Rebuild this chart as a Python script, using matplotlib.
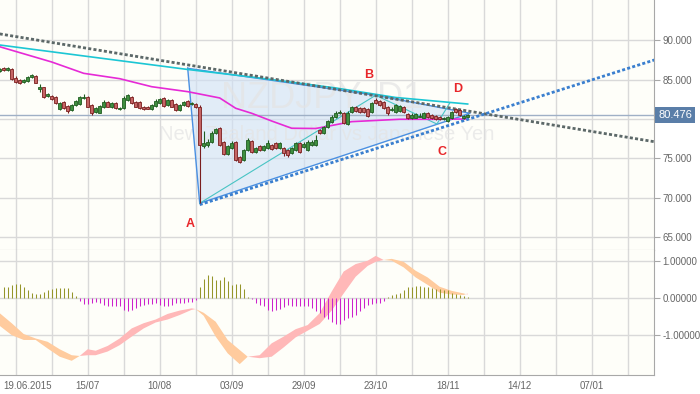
import matplotlib
matplotlib.use("Agg")
from matplotlib import pyplot as plt
from matplotlib.patches import Rectangle, Polygon
import matplotlib.transforms as mtransforms
import numpy as np

plt.rcParams['font.family'] = ['Liberation Sans', 'DejaVu Sans']

# daily bars, index 0 = 19.06.2015
bar_index = list(range(-4, 114))
opens = [86.09, 86.43, 86.21, 86.30, 85.24, 84.94, 84.65, 84.86, 85.29, 85.45,
         83.85, 84.01, 82.91, 82.95, 82.82, 81.22, 82.19, 81.64, 81.13, 81.77,
         81.89, 82.62, 82.82, 81.77, 80.92, 80.79, 81.47, 82.19, 81.47, 82.06,
         81.22, 81.35, 82.40, 82.74, 82.19, 82.19, 81.55, 81.55, 81.22, 81.64,
         82.06, 82.62, 81.77, 82.40, 81.89, 81.13, 81.77, 82.28, 81.89, 81.89,
         81.55, 76.55, 76.68, 77.10, 78.25, 78.81, 77.10, 75.54, 76.27, 77.10,
         75.12, 74.78, 76.05, 77.23, 75.83, 76.56, 76.05, 76.27, 76.68, 76.98,
         76.27, 76.27, 76.05, 75.63, 76.05, 76.90, 76.47, 76.05, 76.68, 76.68,
         78.59, 78.17, 78.93, 79.64, 80.28, 80.71, 80.71, 79.35, 80.92, 81.55,
         81.42, 81.35, 81.26, 80.92, 82.40, 82.31, 82.11, 81.55, 81.09, 80.92,
         81.01, 81.55, 80.59, 80.08, 80.15, 80.30, 80.15, 80.71, 80.50, 80.41,
         80.28, 79.99, 79.73, 80.08, 81.26, 81.13, 80.08, 80.28]
highs = [86.50, 86.60, 86.65, 86.45, 85.40, 85.05, 85.05, 85.50, 85.75, 85.55,
         84.45, 84.10, 83.25, 83.05, 82.90, 82.20, 82.30, 81.75, 81.90, 82.45,
         82.95, 83.10, 82.95, 81.85, 81.55, 81.80, 82.35, 82.30, 82.20, 82.15,
         81.45, 82.95, 83.15, 82.85, 82.30, 82.30, 81.65, 81.60, 81.85, 82.50,
         82.65, 82.75, 82.50, 82.55, 82.00, 81.85, 82.30, 82.45, 82.15, 82.00,
         81.77, 78.40, 77.50, 78.40, 78.85, 78.95, 77.20, 76.70, 77.15, 77.20,
         75.30, 76.20, 77.60, 77.35, 76.40, 76.70, 76.70, 77.30, 76.80, 77.10,
         77.00, 76.40, 76.15, 76.40, 77.05, 77.00, 77.00, 77.30, 77.30, 77.90,
         78.70, 79.10, 79.90, 80.45, 80.95, 81.10, 80.85, 80.95, 81.70, 81.65,
         81.55, 81.50, 81.40, 82.10, 82.60, 82.45, 82.25, 81.65, 81.50, 81.90,
         81.80, 81.70, 80.70, 80.70, 80.75, 80.70, 80.85, 80.85, 80.60, 80.50,
         80.40, 80.30, 80.35, 81.05, 81.40, 81.25, 80.55, 80.60]
lows = [85.95, 86.10, 86.10, 84.90, 84.55, 84.45, 84.55, 84.75, 85.20, 84.50,
        83.40, 82.70, 82.80, 82.40, 81.85, 81.10, 81.30, 80.80, 80.95, 81.65,
        81.80, 82.50, 81.45, 80.45, 80.80, 80.70, 81.40, 81.45, 81.35, 81.20,
        81.15, 81.25, 82.30, 81.90, 81.45, 81.25, 81.15, 81.20, 81.15, 81.55,
        81.95, 81.50, 81.65, 81.45, 81.00, 81.00, 81.70, 81.55, 81.80, 81.40,
        69.28, 76.30, 76.40, 76.95, 78.10, 76.50, 75.35, 75.40, 76.15, 74.60,
        74.40, 74.65, 75.90, 75.70, 75.70, 75.95, 75.90, 76.15, 76.00, 76.15,
        76.15, 75.30, 75.20, 75.50, 75.95, 75.70, 76.35, 75.95, 76.55, 76.55,
        78.05, 78.05, 78.80, 79.50, 80.15, 80.60, 79.30, 79.25, 80.80, 80.90,
        80.80, 80.70, 80.30, 80.80, 81.85, 81.65, 81.30, 80.55, 80.95, 80.80,
        80.90, 80.70, 79.95, 79.95, 80.05, 80.20, 80.05, 80.15, 79.95, 79.85,
        79.85, 79.90, 79.60, 79.95, 80.70, 80.40, 79.95, 80.20]
closes = [86.34, 86.21, 86.51, 85.03, 84.73, 84.60, 84.94, 85.36, 85.58, 84.60,
          84.00, 82.82, 83.13, 82.53, 81.98, 82.06, 81.42, 81.04, 81.77, 82.31,
          82.82, 82.82, 81.55, 80.71, 81.42, 81.64, 82.19, 81.55, 82.06, 81.35,
          81.35, 82.62, 83.04, 81.98, 81.55, 81.35, 81.26, 81.26, 81.77, 82.31,
          82.53, 81.64, 82.40, 81.55, 81.13, 81.77, 82.19, 81.64, 82.06, 81.55,
          76.68, 76.90, 77.10, 78.25, 78.68, 76.68, 75.50, 76.56, 76.98, 74.78,
          74.56, 76.05, 77.32, 75.83, 76.27, 76.05, 76.56, 76.90, 76.14, 76.27,
          76.90, 75.63, 75.41, 76.27, 76.90, 75.83, 76.81, 77.10, 77.10, 77.32,
          78.17, 78.93, 79.77, 80.28, 80.71, 80.92, 79.44, 80.79, 81.55, 81.01,
          80.92, 80.84, 80.41, 81.98, 81.98, 81.77, 81.42, 80.71, 81.26, 81.77,
          81.68, 80.84, 80.08, 80.50, 80.59, 80.38, 80.71, 80.28, 80.08, 79.99,
          79.99, 80.15, 80.24, 80.92, 80.84, 80.50, 80.41, 80.476]
last_price = 80.476

# moving averages (read at a few bars)
cyan_idx = [-4, 20, 43, 60, 80, 95, 113]
cyan_val = [89.39, 87.80, 86.28, 85.26, 83.93, 82.72, 81.89]
mag_idx = [-4, 9, 17, 26, 34, 43, 51, 55, 59, 64, 69, 75, 79, 84, 96, 104, 113]
mag_val = [89.17, 87.23, 85.79, 85.11, 84.09, 83.46, 82.66, 81.35, 80.71, 79.73,
           78.81, 78.78, 79.16, 79.65, 79.95, 79.95, 79.99]

# drawings: trend lines and pattern points (bar, price)
gray_line = [(-4, 90.80), (160, 77.07)]
blue_line = [(46, 69.10), (160, 87.54)]
pt_X = (43.0, 86.43)
pt_A = (46.0, 69.28)
pt_B = (90.0, 83.00)
pt_C = (105.3, 79.35)
pt_D = (108.5, 82.00)
pt_P = (113.6, 80.71)
label_pos = {'A': (43.6, 66.65), 'B': (88.3, 85.58), 'C': (106.6, 75.85), 'D': (110.6, 83.80)}

# MACD panel
hist_idx = list(range(-3, 114))
hist_val = [0.31, 0.31, 0.36, 0.39, 0.38, 0.31, 0.22, 0.13, 0.11, 0.12,
            0.18, 0.21, 0.24, 0.27, 0.28, 0.27, 0.27, 0.18, 0.06, -0.06,
            -0.15, -0.15, -0.12, -0.09, -0.13, -0.18, -0.21, -0.21, -0.22, -0.22,
            -0.31, -0.33, -0.31, -0.27, -0.22, -0.18, -0.15, -0.15, -0.13, -0.18,
            -0.21, -0.21, -0.18, -0.13, -0.12, -0.12, -0.09, -0.09, -0.04, 0.31,
            0.51, 0.63, 0.60, 0.49, 0.49, 0.57, 0.47, 0.36, 0.38, 0.38,
            0.24, 0.04, -0.02, -0.12, -0.18, -0.22, -0.31, -0.33, -0.31, -0.30,
            -0.24, -0.18, -0.21, -0.21, -0.22, -0.22, -0.22, -0.27, -0.33, -0.40,
            -0.51, -0.56, -0.63, -0.69, -0.69, -0.58, -0.54, -0.49, -0.45, -0.33,
            -0.27, -0.18, -0.15, -0.13, -0.12, -0.06, 0.03, 0.09, 0.12, 0.13,
            0.21, 0.30, 0.31, 0.34, 0.34, 0.31, 0.29, 0.27, 0.25, 0.24,
            0.22, 0.21, 0.13, 0.12, 0.09, 0.07, 0.04]
macd_idx = [-4, -1, 2, 5, 8, 11, 14, 16, 18, 20, 23, 26, 29, 32, 35, 38, 41, 44, 45,
            47, 50, 53, 56, 58, 61, 64, 67, 70, 73, 76, 79, 82, 85, 88, 90, 92, 94,
            97, 100, 103, 106, 109, 112, 113]
macd_fast = [-0.74, -0.99, -1.12, -1.12, -1.35, -1.57, -1.68, -1.55, -1.37, -1.41,
             -1.28, -1.08, -0.81, -0.67, -0.57, -0.42, -0.33, -0.27, -0.29, -0.47,
             -1.03, -1.48, -1.77, -1.57, -1.53, -1.21, -1.03, -0.83, -0.72, -0.40,
             0.18, 0.72, 0.92, 1.01, 1.14, 1.03, 1.01, 0.83, 0.56, 0.36,
             0.15, 0.10, 0.09, 0.13]
macd_slow = [-0.40, -0.67, -0.96, -1.08, -1.17, -1.37, -1.53, -1.55, -1.53, -1.53,
             -1.43, -1.26, -1.03, -0.81, -0.65, -0.57, -0.45, -0.31, -0.29, -0.39,
             -0.63, -1.12, -1.39, -1.57, -1.61, -1.57, -1.32, -1.05, -0.87, -0.69,
             -0.33, 0.13, 0.58, 0.87, 0.98, 1.03, 1.06, 0.98, 0.74, 0.56,
             0.31, 0.20, 0.13, 0.10]

date_ticks = [0, 18, 36, 54, 72, 90, 108, 126, 144]
date_labels = ['19.06.2015', '15/07', '10/08', '03/09', '29/09', '23/10', '18/11', '14/12', '07/01']

bg = '#fefef9'
grid_c = '#d9d9d9'
axis_c = '#a8a8a8'
text_c = '#666666'

fig = plt.figure(figsize=(7, 3.94), dpi=100)
fig.patch.set_facecolor('white')
ax = fig.add_axes([0, 0.3655, 0.9347, 0.6345])
ax2 = fig.add_axes([0, 0.0482, 0.9347, 0.3173], sharex=ax)

for a in (ax, ax2):
    a.set_facecolor(bg)
    a.set_xticks(range(0, 160, 9))
    a.grid(True, color=grid_c, lw=1, zorder=0)
    a.set_axisbelow(True)
    a.yaxis.tick_right()
    a.spines['left'].set_visible(False)
    a.spines['top'].set_visible(False)
    a.spines['right'].set_color(axis_c)
    a.spines['bottom'].set_color(axis_c)
    a.tick_params(axis='x', length=0)
    a.tick_params(axis='y', length=4, color=axis_c, labelsize=7, labelcolor=text_c, pad=2)

ax.set_xlim(-3.925, 159.65)
ax.set_ylim(63.34, 95.108)
ax.set_yticks([65, 70, 75, 80, 85, 90])
ax.set_yticklabels(['65.000', '70.000', '75.000', '', '85.000', '90.000'])
ax.tick_params(axis='x', labelbottom=False)

# watermark
ax.text(0.492, 0.608, 'NZDJPY, D1', transform=ax.transAxes, fontsize=26,
        color='#e4e4e4', alpha=0.7, ha='center', va='center', zorder=1.5)
ax.text(0.5, 0.462, 'New Zealand Dollar vs Japanese Yen', transform=ax.transAxes,
        fontsize=14.5, color='#e4e4e4', alpha=0.7, ha='center', va='center', zorder=1.5)

# pattern fill and outline
poly = Polygon([pt_X, pt_A, pt_P, pt_B], closed=True, facecolor='#cfe1f6', alpha=0.6,
               edgecolor='none', zorder=1)
ax.add_patch(poly)
ox = [pt_X[0], pt_A[0], pt_P[0], pt_B[0], pt_X[0]]
oy = [pt_X[1], pt_A[1], pt_P[1], pt_B[1], pt_X[1]]
ax.plot(ox, oy, color='#4a90e2', lw=1, zorder=3)
ax.plot([pt_A[0], pt_B[0], pt_C[0], pt_D[0]], [pt_A[1], pt_B[1], pt_C[1], pt_D[1]],
        color='#48c4c4', lw=0.8, zorder=3)

# moving averages
ax.plot(cyan_idx, cyan_val, color='#1cc6d4', lw=1.2, zorder=3)
ax.plot(mag_idx, mag_val, color='#e62ad6', lw=1.2, zorder=3)

# price line
ax.axhline(last_price, color='#9fb0c6', lw=1, zorder=2)

# trend lines
ax.plot([p[0] for p in gray_line], [p[1] for p in gray_line], color='#5c6868', lw=2,
        linestyle=(0, (1.1, 0.8)), zorder=4)
ax.plot([p[0] for p in blue_line], [p[1] for p in blue_line], color='#3a7fcf', lw=2,
        linestyle=(0, (1.1, 0.8)), zorder=4)

# candles
for i, o, h, l, c in zip(bar_index, opens, highs, lows, closes):
    up = c >= o
    edge = '#1f5c1f' if up else '#7a1e1e'
    face = '#3f8f3f' if up else '#c56565'
    ax.vlines(i, l, h, color=edge, lw=0.8, zorder=5)
    ax.add_patch(Rectangle((i - 0.32, min(o, c)), 0.64, max(abs(c - o), 0.06),
                           facecolor=face, edgecolor=edge, lw=0.6, zorder=6))

for k, (lx, ly) in label_pos.items():
    ax.text(lx, ly, k, color='#e8262a', fontsize=9, fontweight='bold',
            ha='center', va='center', zorder=7)

# current price box
trans = mtransforms.blended_transform_factory(ax.transAxes, ax.transData)
ax.text(1.006, last_price, '%.3f' % last_price, transform=trans, color='white', fontsize=8,
        ha='left', va='center', clip_on=False,
        bbox=dict(boxstyle='square,pad=0.28', fc='#5a7ea8', ec='none'))

# MACD panel
ax2.set_ylim(-2.062, 1.298)
ax2.set_yticks([-1, 0, 1])
ax2.set_yticklabels(['-1.00000', '0.00000', '1.00000'])
mi = np.array(macd_idx, dtype=float)
mf = np.array(macd_fast)
ms = np.array(macd_slow)
ax2.fill_between(mi, mf, ms, where=mf >= ms, interpolate=True, color='#ffb8b8', lw=0, zorder=2)
ax2.fill_between(mi, mf, ms, where=mf <= ms, interpolate=True, color='#ffcb9e', lw=0, zorder=2)
hv = np.array(hist_val)
hcol = ['#95952a' if v >= 0 else '#cc22cc' for v in hv]
ax2.vlines(hist_idx, 0, hv, colors=hcol, lw=0.75, zorder=3)

ax2.set_xticks(range(0, 160, 9))
labels = []
for t in range(0, 160, 9):
    if t in date_ticks and t != 0:
        labels.append(date_labels[date_ticks.index(t)])
    else:
        labels.append('')
ax2.set_xticklabels(labels)
ax2.tick_params(axis='x', labelsize=7, labelcolor=text_c, pad=4)
ax2.text(-3.2, -2.062, date_labels[0], color=text_c, fontsize=7, ha='left', va='top',
         transform=mtransforms.offset_copy(ax2.transData, fig=fig, y=-4, units='points'))

fig.savefig('out.png', dpi=100)
